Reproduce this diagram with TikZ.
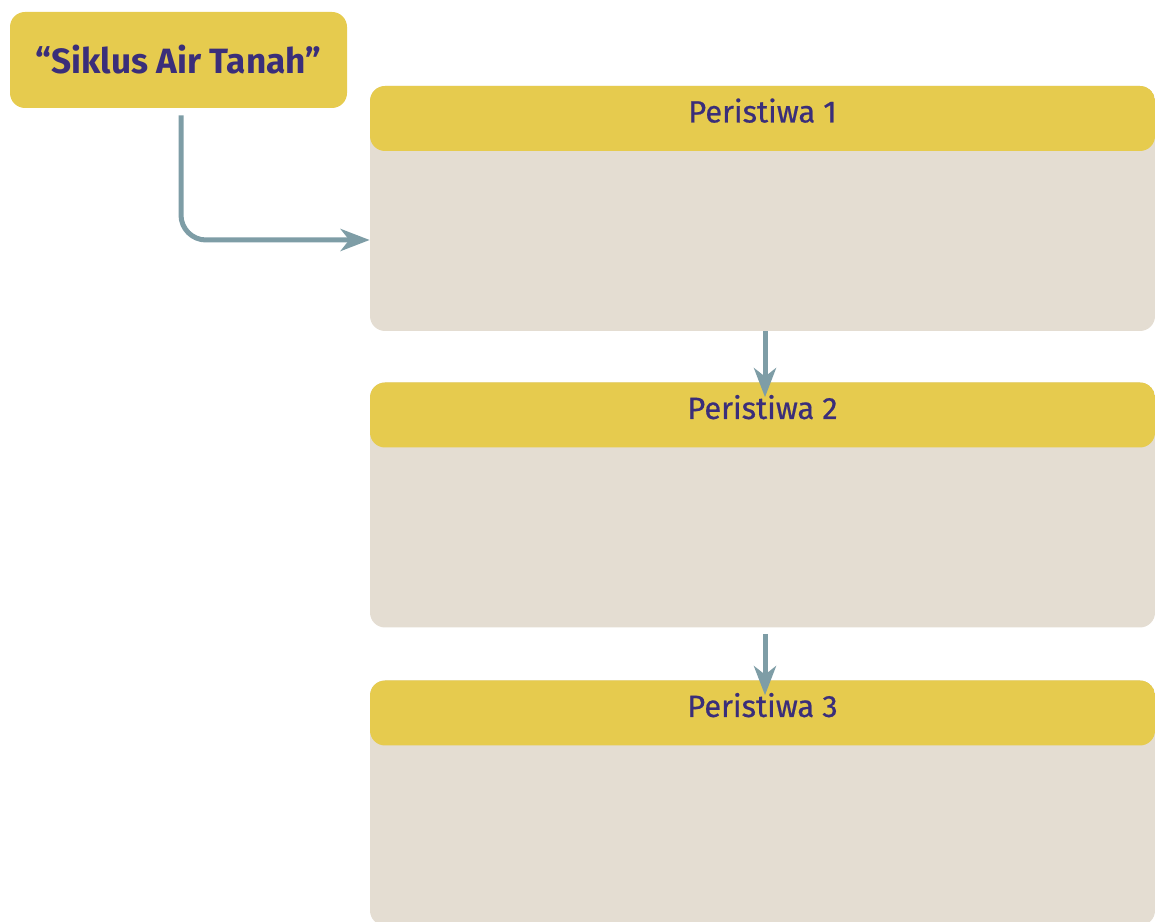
\documentclass[tikz,border=0pt]{standalone}
\usepackage{fontspec}
\setmainfont{Fira Sans}
\newfontfamily\headfont[FakeBold=0.6]{Fira Sans}
\usetikzlibrary{arrows.meta}
\definecolor{kuning}{HTML}{E6CB4E}
\definecolor{krem}{HTML}{E4DDD2}
\definecolor{ungu}{HTML}{3A2E7A}
\definecolor{abu}{HTML}{7E9DA6}

\begin{document}
\begin{tikzpicture}[
  titlebox/.style={fill=kuning, rounded corners=0.3cm, minimum width=6.74cm, minimum height=1.92cm, text=ungu, font=\fontsize{20}{22}\selectfont\bfseries},
  eventbox/.style={fill=krem, rounded corners=0.3cm, minimum width=15.7cm, minimum height=4.9cm,
    path picture={\fill[kuning] (path picture bounding box.north west) rectangle ([yshift=-1.3cm]path picture bounding box.north east);}},
  headtext/.style={text=ungu, font=\headfont\fontsize{17.5}{19}\selectfont},
  flow/.style={-{Stealth[length=0.58cm, width=0.44cm, inset=0.17cm]}, abu, line width=0.1cm}]
\useasboundingbox (0,0) rectangle (23.1,18.42);
\node[titlebox] (judul) at (3.57,17.22) {``Siklus Air Tanah''};
\node[eventbox] (ev1) at (15.25,14.25) {};
\node[eventbox] (ev2) at (15.25,8.32) {};
\node[eventbox] (ev3) at (15.25,2.36) {};
\node[headtext] (h1) at ([yshift=-0.5cm]ev1.north) {Peristiwa 1};
\node[headtext] (h2) at ([yshift=-0.5cm]ev2.north) {Peristiwa 2};
\node[headtext] (h3) at ([yshift=-0.5cm]ev3.north) {Peristiwa 3};
% Arrows
\draw [flow, rounded corners=0.5cm] ([xshift=0.05cm, yshift=-0.14cm]judul.south) |- ([yshift=-0.63cm]ev1.west);
\draw [flow] ([xshift=0.05cm]ev1.south) -- ([xshift=0.05cm, yshift=-0.3cm]ev2.north);
\draw [flow] ([xshift=0.05cm, yshift=-0.12cm]ev2.south) -- ([xshift=0.05cm, yshift=-0.3cm]ev3.north);
\end{tikzpicture}
\end{document}
